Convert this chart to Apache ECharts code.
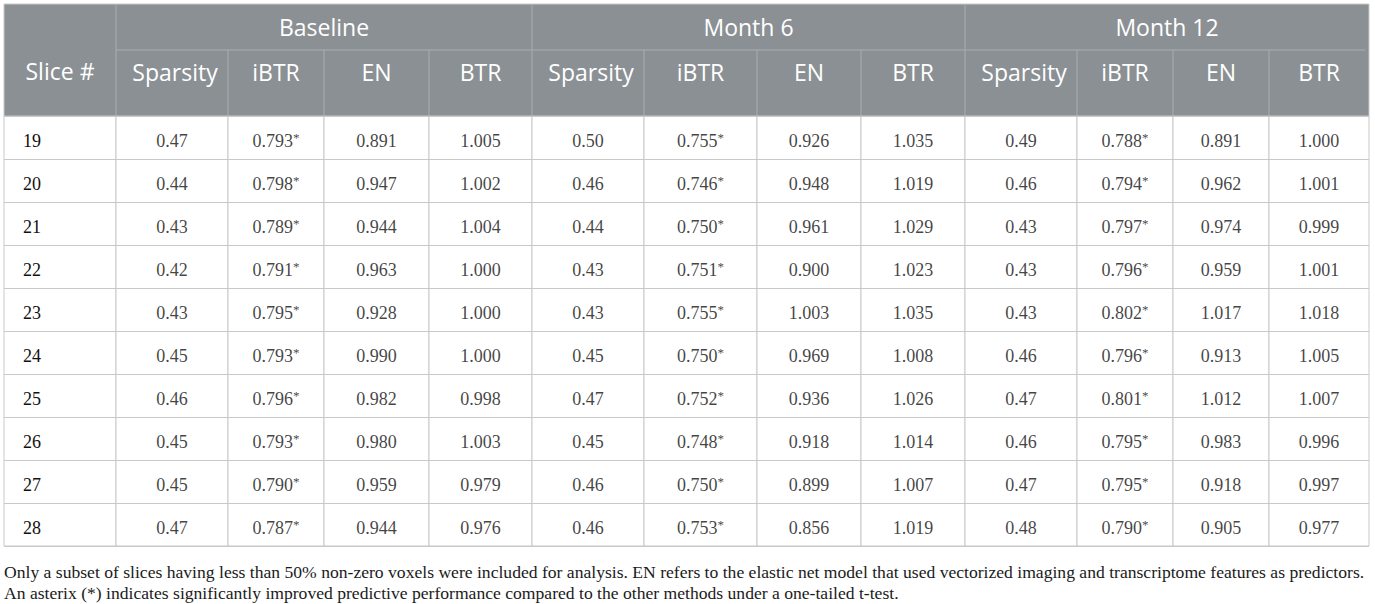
<!DOCTYPE html>
<html>
<head>
<meta charset="utf-8">
<title>Slice table</title>
<script src="https://cdn.jsdelivr.net/npm/echarts@6/dist/echarts.min.js"></script>
<style>
  html, body { margin: 0; padding: 0; background: #fff; }
  #table { width: 1375px; height: 604px; }
</style>
</head>
<body>
<div id="table"></div>
<script type="text/javascript">
// rows and column headers
var slices = ['19', '20', '21', '22', '23', '24', '25', '26', '27', '28'];
var groups = ['Baseline', 'Month 6', 'Month 12'];
var metrics = ['Sparsity', 'iBTR', 'EN', 'BTR'];
var starredMetric = 'iBTR';

// Baseline
var baseSparsity = [0.47, 0.44, 0.43, 0.42, 0.43, 0.45, 0.46, 0.45, 0.45, 0.47];
var baseIbtr = [0.793, 0.798, 0.789, 0.791, 0.795, 0.793, 0.796, 0.793, 0.790, 0.787];
var baseEn = [0.891, 0.947, 0.944, 0.963, 0.928, 0.990, 0.982, 0.980, 0.959, 0.944];
var baseBtr = [1.005, 1.002, 1.004, 1.000, 1.000, 1.000, 0.998, 1.003, 0.979, 0.976];
// Month 6
var m6Sparsity = [0.50, 0.46, 0.44, 0.43, 0.43, 0.45, 0.47, 0.45, 0.46, 0.46];
var m6Ibtr = [0.755, 0.746, 0.750, 0.751, 0.755, 0.750, 0.752, 0.748, 0.750, 0.753];
var m6En = [0.926, 0.948, 0.961, 0.900, 1.003, 0.969, 0.936, 0.918, 0.899, 0.856];
var m6Btr = [1.035, 1.019, 1.029, 1.023, 1.035, 1.008, 1.026, 1.014, 1.007, 1.019];
// Month 12
var m12Sparsity = [0.49, 0.46, 0.43, 0.43, 0.43, 0.46, 0.47, 0.46, 0.47, 0.48];
var m12Ibtr = [0.788, 0.794, 0.797, 0.796, 0.802, 0.796, 0.801, 0.795, 0.795, 0.790];
var m12En = [0.891, 0.962, 0.974, 0.959, 1.017, 0.913, 1.012, 0.983, 0.918, 0.905];
var m12Btr = [1.000, 1.001, 0.999, 1.001, 1.018, 1.005, 1.007, 0.996, 0.997, 0.977];

var footnote1 = 'Only a subset of slices having less than 50% non-zero voxels were included for analysis. EN refers to the elastic net model that used vectorized imaging and transcriptome features as predictors.';
var footnote2 = 'An asterix (*) indicates significantly improved predictive performance compared to the other methods under a one-tailed t-test.';

var columns = [
  [baseSparsity, baseIbtr, baseEn, baseBtr],
  [m6Sparsity, m6Ibtr, m6En, m6Btr],
  [m12Sparsity, m12Ibtr, m12En, m12Btr]
];

// layout (pixels)
var edges = [4, 116, 228, 324, 429, 532, 644, 757, 861, 965, 1077, 1173, 1269, 1369];
var tableTop = 4, groupLineY = 50, bodyTop = 116, bodyBottom = 546;
var headBg = '#8b9094', headLine = '#a9aeb1', bodyLine = '#c9c9c9';
var sansFont = '"Open Sans", "Noto Sans", sans-serif';
var serifFont = '"Liberation Serif", "DejaVu Serif", serif';
var headSize = 23, bodySize = 18, noteSize = 17.6;

var grids = [], xAxes = [], yAxes = [], series = [], graphics = [];

function addGrid(i) {
  grids.push({
    left: edges[i], top: bodyTop,
    width: edges[i + 1] - edges[i], height: bodyBottom - bodyTop,
    show: true, backgroundColor: '#fff',
    borderColor: bodyLine, borderWidth: 1
  });
  xAxes.push({
    type: 'category', gridIndex: i, data: ['c'], show: false
  });
  yAxes.push({
    type: 'category', gridIndex: i, data: slices, inverse: true,
    axisLine: { show: false }, axisTick: { show: false },
    axisLabel: {
      show: i === 0, inside: true, interval: 0, margin: 19,
      formatter: '{n|{value}}',
      rich: { n: { color: '#111', fontFamily: serifFont, fontSize: bodySize, padding: [7, 0, 0, 0] } }
    },
    splitLine: { show: true, interval: 0, lineStyle: { color: bodyLine, width: 1 } }
  });
}

// slice # column
addGrid(0);

var col = 1;
groups.forEach(function (g, gi) {
  metrics.forEach(function (m, mi) {
    var vals = columns[gi][mi];
    var digits = m === 'Sparsity' ? 2 : 3;
    var star = m === starredMetric;
    addGrid(col);
    series.push({
      type: 'scatter',
      xAxisIndex: col, yAxisIndex: col,
      symbolSize: 1,
      itemStyle: { color: 'rgba(0,0,0,0)' },
      silent: true,
      data: vals.map(function (v, r) { return [0, r, v]; }),
      label: {
        show: true, position: 'inside', offset: [0, 3],
        color: '#111', fontFamily: serifFont, fontSize: bodySize,
        formatter: function (p) {
          return p.data[2].toFixed(digits) + (star ? '{s|*}' : '');
        },
        rich: { s: { fontFamily: serifFont, fontSize: 13, color: '#111', verticalAlign: 'top', padding: [0, 0, 7, 0] } }
      }
    });
    col++;
  });
});

// header background
graphics.push({
  type: 'rect', silent: true,
  shape: { x: edges[0], y: tableTop, width: edges[13] - edges[0], height: bodyTop - tableTop },
  style: { fill: headBg, stroke: bodyLine, lineWidth: 1 }
});
// header lines
graphics.push({
  type: 'line', silent: true,
  shape: { x1: edges[1], y1: groupLineY, x2: edges[13] - 4, y2: groupLineY },
  style: { stroke: headLine, lineWidth: 1 }
});
for (var e = 1; e < 13; e++) {
  var major = (e - 1) % 4 === 0;
  graphics.push({
    type: 'line', silent: true,
    shape: { x1: edges[e], y1: major ? tableTop : groupLineY, x2: edges[e], y2: bodyTop },
    style: { stroke: headLine, lineWidth: 1 }
  });
}
// header texts
graphics.push({
  type: 'text', silent: true,
  x: (edges[0] + edges[1]) / 2, y: 71,
  style: { text: 'Slice #', fill: '#fff', font: headSize + 'px ' + sansFont, align: 'center', verticalAlign: 'middle' }
});
groups.forEach(function (g, gi) {
  var l = edges[1 + gi * 4], r = edges[5 + gi * 4];
  graphics.push({
    type: 'text', silent: true,
    x: (l + r) / 2, y: 27,
    style: { text: g, fill: '#fff', font: headSize + 'px ' + sansFont, align: 'center', verticalAlign: 'middle' }
  });
  metrics.forEach(function (m, mi) {
    var c = 1 + gi * 4 + mi;
    graphics.push({
      type: 'text', silent: true,
      x: (edges[c] + edges[c + 1]) / 2 + (m === 'Sparsity' ? 3 : 0), y: 72,
      style: { text: m, fill: '#fff', font: headSize + 'px ' + sansFont, align: 'center', verticalAlign: 'middle' }
    });
  });
});
// footnotes
graphics.push({
  type: 'text', silent: true, x: 4, y: 572,
  style: { text: footnote1, fill: '#1a1a1a', font: noteSize + 'px ' + serifFont, verticalAlign: 'middle' }
});
graphics.push({
  type: 'text', silent: true, x: 4, y: 593,
  style: { text: footnote2, fill: '#1a1a1a', font: noteSize + 'px ' + serifFont, verticalAlign: 'middle' }
});

var chart = echarts.init(document.getElementById('table'), null, { renderer: 'svg' });
chart.setOption({
  animation: false,
  backgroundColor: '#fff',
  grid: grids,
  xAxis: xAxes,
  yAxis: yAxes,
  series: series,
  graphic: { elements: graphics }
});
</script>
</body>
</html>
